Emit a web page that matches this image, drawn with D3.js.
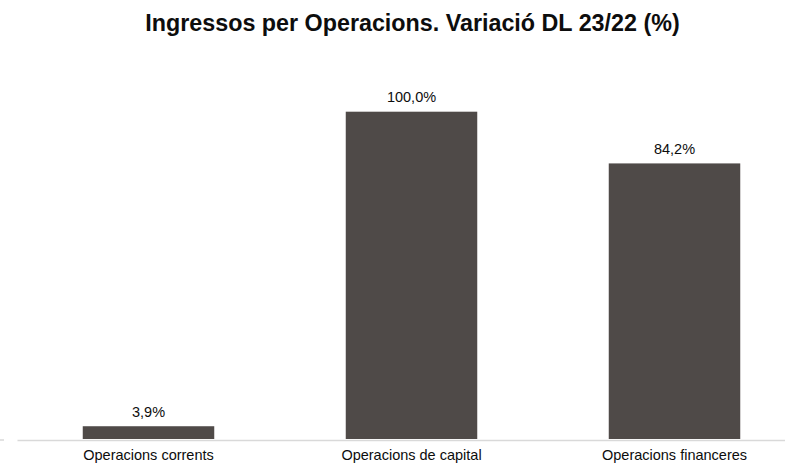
<!DOCTYPE html>
<html>
<head>
<meta charset="utf-8">
<script src="https://cdn.jsdelivr.net/npm/d3@7"></script>
<style>
  body { margin: 0; background: #fff; }
  svg { font-family: "Liberation Sans", Arial, sans-serif; }
</style>
</head>
<body>
<div id="chart"></div>
<script>
const categories = ["Operacions corrents", "Operacions de capital", "Operacions financeres"];
const values = [3.9, 100.0, 84.2];
const valueLabels = ["3,9%", "100,0%", "84,2%"];

const width = 785, height = 466;

const svg = d3.select("#chart").append("svg")
    .attr("width", width)
    .attr("height", height);

// titol
svg.append("text")
   .attr("x", 412.5)
   .attr("y", 31)
   .attr("text-anchor", "middle")
   .style("font-size", "23.3px")
   .style("font-weight", "bold")
   .style("fill", "#0d0d0d")
   .text("Ingressos per Operacions. Variació DL 23/22 (%)");

const xScale = d3.scaleBand().domain(categories).range([17, 806])
    .paddingInner(0.5).paddingOuter(0.25);
const yScale = d3.scaleLinear().domain([0, 100]).range([439, 111.7]);

const data = categories.map((c, i) => ({ cat: c, val: values[i], label: valueLabels[i] }));

svg.selectAll(".bar")
   .data(data)
   .enter().append("rect")
   .attr("class", "bar")
   .attr("x", d => xScale(d.cat))
   .attr("y", d => yScale(d.val))
   .attr("width", xScale.bandwidth())
   .attr("height", d => yScale(0) - yScale(d.val))
   .attr("fill", "#4f4a48");

// eix
const axis = svg.append("g")
   .attr("transform", `translate(0, ${yScale(0) + 1})`)
   .call(d3.axisBottom(xScale).tickSize(0).tickPadding(10));
axis.select(".domain").attr("stroke", "#d9d9d9").attr("stroke-width", 1.5);
axis.selectAll("text")
   .style("font-size", "14.5px")
   .style("fill", "#0d0d0d")
   .style("font-family", "'Liberation Sans', Arial, sans-serif");

svg.append("line")
   .attr("x1", 0).attr("x2", 4)
   .attr("y1", yScale(0) + 1).attr("y2", yScale(0) + 1)
   .attr("stroke", "#d9d9d9").attr("stroke-width", 1.5);

svg.selectAll(".bar-label")
   .data(data)
   .enter().append("text")
   .attr("class", "bar-label")
   .attr("x", d => xScale(d.cat) + xScale.bandwidth() / 2)
   .attr("y", d => yScale(d.val) - 9.5)
   .attr("text-anchor", "middle")
   .style("font-size", "14.5px")
   .style("fill", "#0d0d0d")
   .text(d => d.label);
</script>
</body>
</html>
